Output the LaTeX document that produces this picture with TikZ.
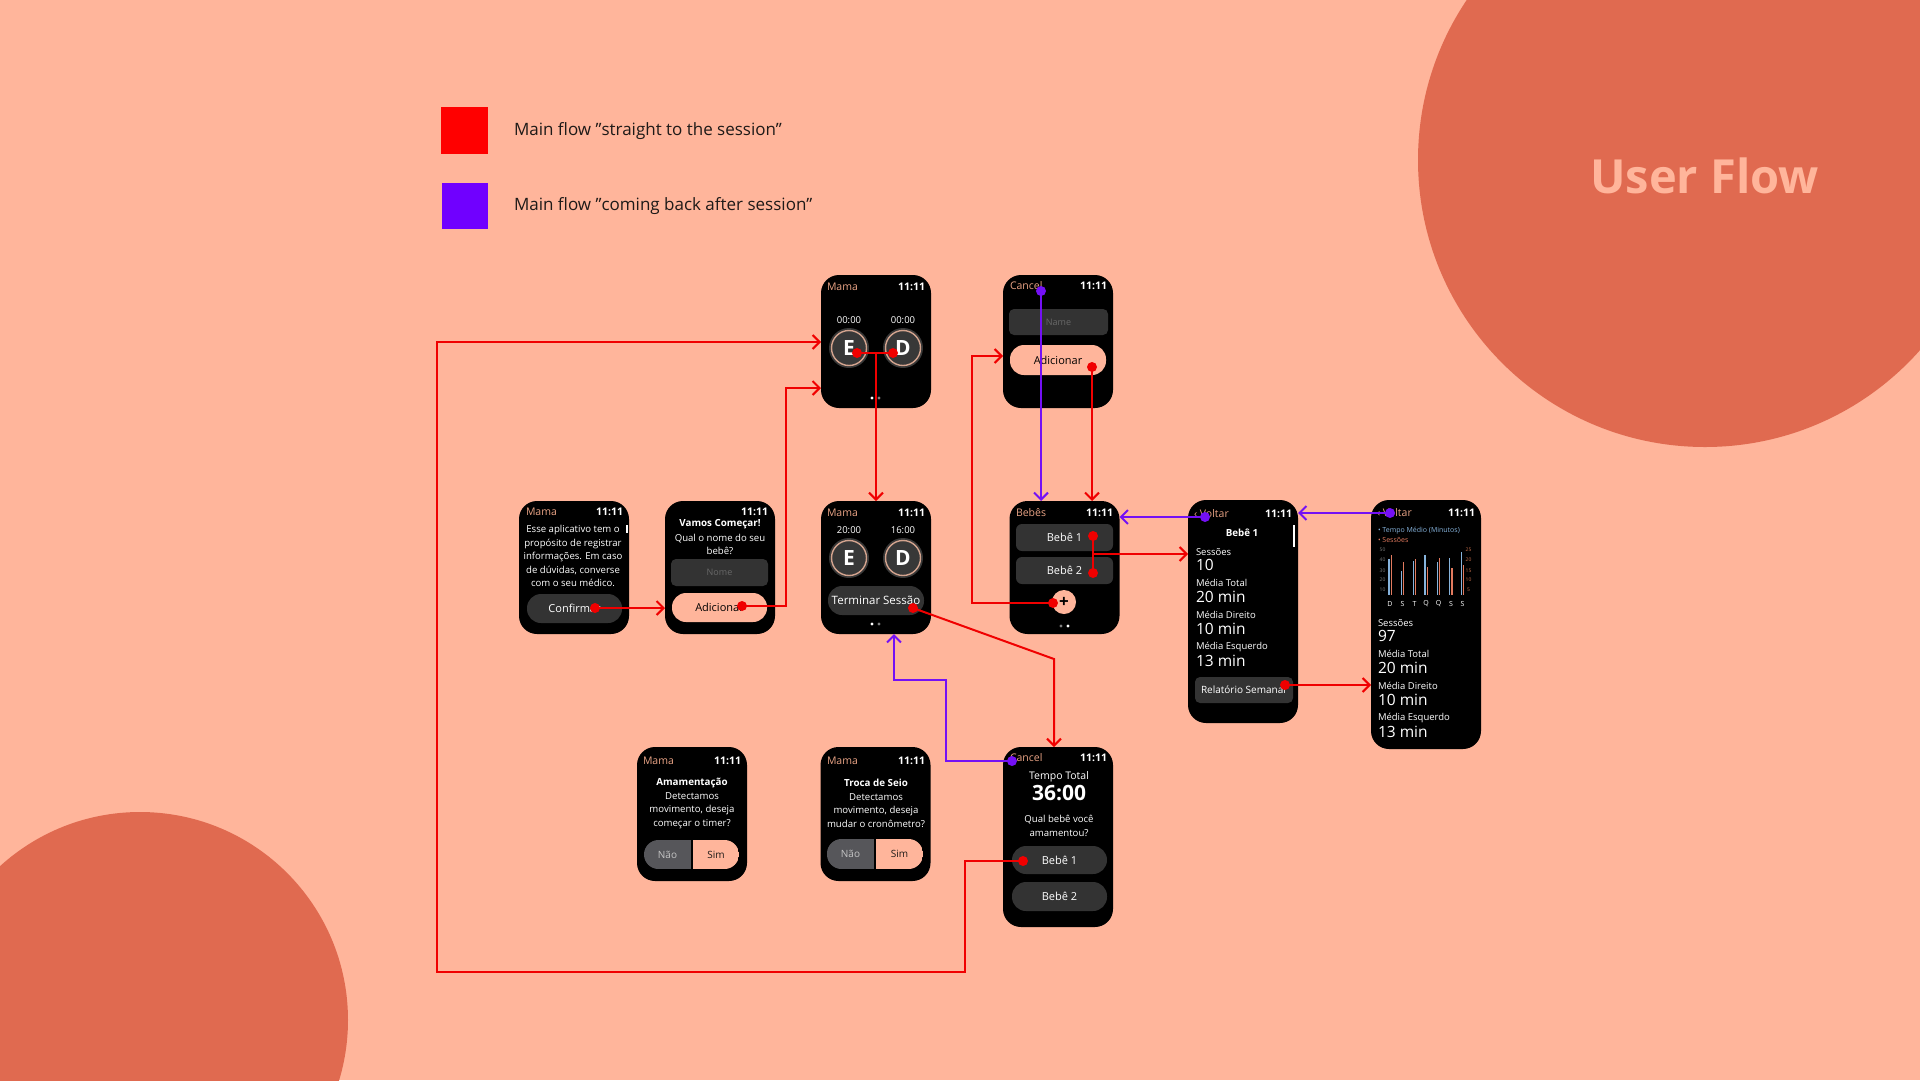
\documentclass[tikz,border=0pt]{standalone}
\usepackage{fontspec}
\setmainfont{Open Sans}
\usetikzlibrary{arrows.meta}
\definecolor{bgc}{HTML}{FFB59B}
\definecolor{circ}{HTML}{E06A50}
\definecolor{legr}{HTML}{FF0000}
\definecolor{legp}{HTML}{7000FF}
\definecolor{lred}{HTML}{F00000}
\definecolor{lpur}{HTML}{7410F5}
\definecolor{hsal}{HTML}{E9A385}
\definecolor{btn}{HTML}{333333}
\definecolor{ph}{HTML}{686868}
\definecolor{nao}{HTML}{56565A}
\definecolor{naot}{HTML}{C4C4C4}
\definecolor{edf}{HTML}{383838}
\definecolor{ringc}{HTML}{D3A38E}
\definecolor{cblue}{HTML}{86B3DC}
\definecolor{csal}{HTML}{E27A5E}
\definecolor{axg}{HTML}{7A7A7A}
\definecolor{axo}{HTML}{C8704C}
\definecolor{txt}{HTML}{1E1A18}
\pgfdeclarelayer{fg}
\pgfsetlayers{main,fg}
\begin{document}
\begin{tikzpicture}[x=1pt,y=-1pt,
  every node/.style={inner sep=0pt,outer sep=0pt},
  watch/.style={fill=black,rounded corners=18pt,minimum width=110pt},
  hl/.style={anchor=west,text=hsal,font=\fontsize{10.5}{12}\selectfont},
  hr/.style={anchor=east,text=white,font=\fontsize{10.5}{12}\selectfont\bfseries},
  tw/.style={text=white,align=center,font=\fontsize{9.6}{13.5}\selectfont},
  tb/.style={text=white,align=center,font=\fontsize{9.8}{13}\selectfont\bfseries},
  pill/.style={fill=btn,rounded corners=14pt,text=white,font=\fontsize{11}{13}\selectfont},
  pillp/.style={fill=bgc,rounded corners=14pt,text=black,font=\fontsize{11}{13}\selectfont},
  field/.style={fill=btn,rounded corners=5pt,text=ph,font=\fontsize{9}{11}\selectfont},
  tm/.style={text=white,font=\fontsize{9.5}{11}\selectfont},
  edc/.style={circle,fill=edf,minimum size=40pt,text=white,font=\fontsize{21}{21}\selectfont\bfseries},
  ringd/.style={draw=ringc,line width=1.4pt},
  sl/.style={anchor=west,text=white,font=\fontsize{9.5}{11}\selectfont},
  sv/.style={anchor=west,text=white,font=\fontsize{15.5}{17}\selectfont},
  seg/.style={font=\fontsize{10}{12}\selectfont},
  rdot/.style={circle,fill=lred,minimum size=10pt},
  pdot/.style={circle,fill=lpur,minimum size=10pt},
  rl/.style={draw=lred,line width=2pt,-{Straight Barb[length=7pt,width=14pt]}},
  rln/.style={draw=lred,line width=2pt},
  pl/.style={draw=lpur,line width=2pt,-{Straight Barb[length=7pt,width=14pt]}},
]
\useasboundingbox (0,0) rectangle (1920,1080);
\fill[bgc] (0,0) rectangle (1920,1080);
\fill[circ] (1705,160) circle (287pt);
\fill[circ] (140,1020) circle (208pt);
\node[text=bgc,font=\fontsize{47}{50}\selectfont\bfseries] (title) at (1704.5,176) {User Flow};

% legend
\node[fill=legr,minimum size=47pt] (legRsq) at (464.5,130.5) {};
\node[anchor=west,text=txt,font=\fontsize{17}{20}\selectfont] (legRtx) at (514,131) {Main flow "straight to the session"};
\node[fill=legp,minimum size=46pt] (legPsq) at (464.5,206) {};
\node[anchor=west,text=txt,font=\fontsize{17}{20}\selectfont] (legPtx) at (514,206) {Main flow "coming back after session"};

% ---------- watch A: onboarding
\node[watch,minimum height=133pt] (wA) at (574,567.5) {};
\node[hl] (wAh) at (526,512) {Mama};
\node[hr] (wAt) at (623,512) {11:11};
\node[tw] (wAtx) at (573,556) {Esse aplicativo tem o\\propósito de registrar\\informações. Em caso\\de dúvidas, converse\\com o seu médico.};
\node[fill=white,minimum width=2pt,minimum height=8pt] (wAsb) at (627,529) {};
\node[pill,minimum width=95pt,minimum height=29pt] (wAbtn) at (574.5,608.5) {Confirmar};

% ---------- watch B: vamos começar
\node[watch,minimum height=133pt] (wB) at (720,567.5) {};
\node[hr] (wBt) at (768,512) {11:11};
\node[tb] (wBtt) at (720,524) {Vamos Começar!};
\node[tw] (wBtx) at (720,544.5) {Qual o nome do seu\\bebê?};
\node[field,minimum width=97pt,minimum height=27pt] (wBf) at (719.5,572.5) {Nome};
\node[pillp,minimum width=95pt,minimum height=29pt] (wBbtn) at (719.5,607.5) {Adicionar};

% ---------- watch C: timer
\node[watch,minimum height=133pt] (wC) at (876,341.5) {};
\node[hl] (wCh) at (827,287) {Mama};
\node[hr] (wCt) at (925,287) {11:11};
\node[tm] (wCl) at (849,320) {00:00};
\node[tm] (wCr) at (903,320) {00:00};
\node[edc] (wCE) at (849,348) {E};
\node[edc] (wCD) at (903,348) {D};
\draw[ringd] (wCE.center) circle (17.5pt);
\draw[ringd] (wCD.center) circle (17.5pt);
\fill[white] (872,398) circle (1.6pt);
\fill[gray] (879,398) circle (1.6pt);

% ---------- watch D: session
\node[watch,minimum height=133pt] (wD) at (876,567.5) {};
\node[hl] (wDh) at (827,513) {Mama};
\node[hr] (wDt) at (925,513) {11:11};
\node[tm] (wDl) at (849,530) {20:00};
\node[tm] (wDr) at (903,530) {16:00};
\node[edc] (wDE) at (849,558) {E};
\node[edc] (wDD) at (903,558) {D};
\draw[ringd] (wDE.center) circle (17.5pt);
\draw[ringd] (wDD.center) circle (17.5pt);
\node[pill,minimum width=96pt,minimum height=29pt,font=\fontsize{11.5}{13}\selectfont] (wDbtn) at (876,600.5) {Terminar Sessão};
\fill[white] (872,624) circle (1.6pt);
\fill[gray] (879,624) circle (1.6pt);

% ---------- watch E: add baby
\node[watch,minimum height=133pt] (wE) at (1058,341.5) {};
\node[hl] (wEh) at (1010,286) {Cancel};
\node[hr] (wEt) at (1107,286) {11:11};
\node[field,minimum width=99pt,minimum height=26pt] (wEf) at (1058.5,322) {Name};
\node[pillp,minimum width=96pt,minimum height=30pt] (wEbtn) at (1058,360) {Adicionar};

% ---------- watch F: babies
\node[watch,minimum height=133pt] (wF) at (1064.5,567.5) {};
\node[hl] (wFh) at (1016,513) {Bebês};
\node[hr] (wFt) at (1113,513) {11:11};
\node[pill,rounded corners=6pt,minimum width=97pt,minimum height=27pt] (wFb1) at (1064.5,537.5) {Bebê 1};
\node[pill,rounded corners=6pt,minimum width=97pt,minimum height=27pt] (wFb2) at (1064.5,570.5) {Bebê 2};
\node[circle,fill=bgc,minimum size=24pt,text=black,font=\fontsize{17}{17}\selectfont\bfseries] (wFplus) at (1064,602) {+};
\fill[gray] (1061,626) circle (1.6pt);
\fill[white] (1068,626) circle (1.6pt);

% ---------- watch G: baby detail
\node[watch,minimum height=223pt] (wG) at (1243,611.5) {};
\node[hl] (wGh) at (1194,514) {‹ Voltar};
\node[hr] (wGt) at (1292,514) {11:11};
\node[tb] (wGtt) at (1242,533) {Bebê 1};
\node[fill=white,minimum width=2pt,minimum height=22pt] (wGsb) at (1294,535.5) {};
\node[sl] (wGs1) at (1196,552) {Sessões};
\node[sv] (wGv1) at (1196,565) {10};
\node[sl] (wGs2) at (1196,583) {Média Total};
\node[sv] (wGv2) at (1196,597) {20 min};
\node[sl] (wGs3) at (1196,615) {Média Direito};
\node[sv] (wGv3) at (1196,629) {10 min};
\node[sl] (wGs4) at (1196,647) {Média Esquerdo};
\node[sv] (wGv4) at (1196,661) {13 min};
\node[fill=btn,rounded corners=5pt,minimum width=98pt,minimum height=26pt] (wGbtn) at (1244,690) {};
\node[anchor=west,text=white,font=\fontsize{10}{12}\selectfont] (wGbtx) at (1201,690) {Relatório Semanal};

% ---------- watch H: weekly report
\node[watch,minimum height=249pt] (wH) at (1426,624.5) {};
\node[hl] (wHh) at (1377,513) {‹ Voltar};
\node[hr] (wHt) at (1475,513) {11:11};
\node[anchor=west,text=cblue,font=\fontsize{7}{8}\selectfont] (wHl1) at (1378,531) {• Tempo Médio (Minutos)};
\node[anchor=west,text=csal,font=\fontsize{7}{8}\selectfont] (wHl2) at (1378,540) {• Sessões};
\foreach \y/\l/\r [count=\i] in {550/50/25,560/40/20,571/30/15,580/20/10,590/10/5}{
  \node[text=axg,font=\fontsize{5}{6}\selectfont] (wHal\i) at (1382.5,\y) {\l};
  \node[text=axo,font=\fontsize{5}{6}\selectfont] (wHar\i) at (1468.5,\y) {\r};
}
\foreach \x/\b/\s in {1389/559/555,1401.3/571/562,1413.3/561/559,1425/555/567,1437.3/562/558,1449.7/558/568,1461.3/552/565}{
  \fill[cblue] (\x-0.7,595) rectangle (\x+0.7,\b);
  \fill[csal] (\x+1.6,595) rectangle (\x+3,\s);
}
\foreach \x/\d [count=\i] in {1390/D,1402.5/S,1414.5/T,1426/Q,1438.5/Q,1451/S,1462.5/S}{
  \node[text=white,font=\fontsize{7}{8}\selectfont] (wHd\i) at (\x,603.5) {\d};
}
\node[sl] (wHs1) at (1378,623) {Sessões};
\node[sv] (wHv1) at (1378,636) {97};
\node[sl] (wHs2) at (1378,654) {Média Total};
\node[sv] (wHv2) at (1378,668) {20 min};
\node[sl] (wHs3) at (1378,686) {Média Direito};
\node[sv] (wHv3) at (1378,700) {10 min};
\node[sl] (wHs4) at (1378,718) {Média Esquerdo};
\node[sv] (wHv4) at (1378,732) {13 min};

% ---------- watch I: amamentação
\node[watch,minimum height=134pt] (wI) at (692,814) {};
\node[hl] (wIh) at (643,761) {Mama};
\node[hr] (wIt) at (741,761) {11:11};
\node[tb] (wItt) at (692,783) {Amamentação};
\node[tw] (wItx) at (692,810.5) {Detectamos\\movimento, deseja\\começar o timer?};
\begin{scope}
\clip[rounded corners=14.5pt] (644,840) rectangle (739,869);
\fill[nao] (644,840) rectangle (691,869);
\fill[bgc] (693,840) rectangle (739,869);
\end{scope}
\node[seg,text=naot] (wInao) at (667.5,854.5) {Não};
\node[seg,text=txt] (wIsim) at (716,854.5) {Sim};

% ---------- watch J: troca de seio
\node[watch,minimum height=134pt] (wJ) at (875.5,814) {};
\node[hl] (wJh) at (827,761) {Mama};
\node[hr] (wJt) at (925,761) {11:11};
\node[tb] (wJtt) at (876,783) {Troca de Seio};
\node[tw] (wJtx) at (876,810.5) {Detectamos\\movimento, deseja\\mudar o cronômetro?};
\begin{scope}
\clip[rounded corners=14.5pt] (827,839) rectangle (923,869);
\fill[nao] (827,839) rectangle (874,869);
\fill[bgc] (876,839) rectangle (923,869);
\end{scope}
\node[seg,text=naot] (wJnao) at (850.5,854) {Não};
\node[seg,text=txt] (wJsim) at (899.5,854) {Sim};

% ---------- watch K: end of session
\node[watch,minimum height=180pt] (wK) at (1058,837) {};
\node[hl] (wKh) at (1010,758) {Cancel};
\node[hr] (wKt) at (1107,758) {11:11};
\node[text=white,font=\fontsize{10.5}{12}\selectfont] (wKtt) at (1059,777) {Tempo Total};
\node[text=white,font=\fontsize{21}{22}\selectfont\bfseries] (wKtime) at (1059,793) {36:00};
\node[tw] (wKq) at (1059,826) {Qual bebê você\\amamentou?};
\node[pill,minimum width=95pt,minimum height=28pt] (wKb1) at (1059.5,860) {Bebê 1};
\node[pill,minimum width=95pt,minimum height=29pt] (wKb2) at (1059.5,896.5) {Bebê 2};

% ---------- dots (foreground)
\begin{pgfonlayer}{fg}
\node[rdot] (dConf) at (595,608) {};
\node[rdot] (dAdd1) at (742,606) {};
\node[rdot] (dE) at (857,353) {};
\node[rdot] (dD) at (893,353) {};
\node[rdot] (dTerm) at (913,608) {};
\node[rdot] (dPlus) at (1053,603) {};
\node[rdot] (dAdd2) at (1092,367) {};
\node[rdot] (dB1) at (1093,536) {};
\node[rdot] (dB2) at (1093,573) {};
\node[rdot] (dRel) at (1285,685) {};
\node[rdot] (dSB1) at (1023,861) {};
\node[pdot] (dCan1) at (1041,291) {};
\node[pdot] (dVolt1) at (1205,517) {};
\node[pdot] (dVolt2) at (1390,513) {};
\node[pdot] (dCan2) at (1012,761) {};
\end{pgfonlayer}

\coordinate (b1) at (786,388);
\coordinate (cmid) at (876,353);
\coordinate (d1) at (1054,659);
\coordinate (e1) at (972,356);
\coordinate (g1) at (1093,554);
\coordinate (i1) at (965,972);
\coordinate (i2) at (437,342);
\coordinate (m1) at (946,680);
\coordinate (m2) at (894,680);

% red connectors
\draw[rl] (dConf.center) -- (wB.west |- dConf.center);
\draw[rl] (dAdd1.center) -| (b1) -- (wC.west |- b1);
\draw[rln] (dE.center) -- (dD.center);
\draw[rl] (cmid) -- (wD.north -| cmid);
\draw[rl] (dTerm.center) -- (d1) -- (wK.north -| d1);
\draw[rl] (dPlus.center) -| (e1) -- (wE.west |- e1);
\draw[rl] (dAdd2.center) -- (wF.north -| dAdd2.center);
\draw[rln] (dB1.center) -- (dB2.center);
\draw[rl] (g1) -- (wG.west |- g1);
\draw[rl] (dRel.center) -- (wH.west |- dRel.center);
\draw[rl] (dSB1.center) -| (i1) -| (i2) -- (wC.west |- i2);

% purple connectors
\draw[pl] (dCan1.center) -- (wF.north -| dCan1.center);
\draw[pl] (dVolt1.center) -- (wF.east |- dVolt1.center);
\draw[pl] (dVolt2.center) -- (wG.east |- dVolt2.center);
\draw[pl] (dCan2.center) -| (m1) -- (m2) -- (wD.south -| m2);
\end{tikzpicture}
\end{document}
